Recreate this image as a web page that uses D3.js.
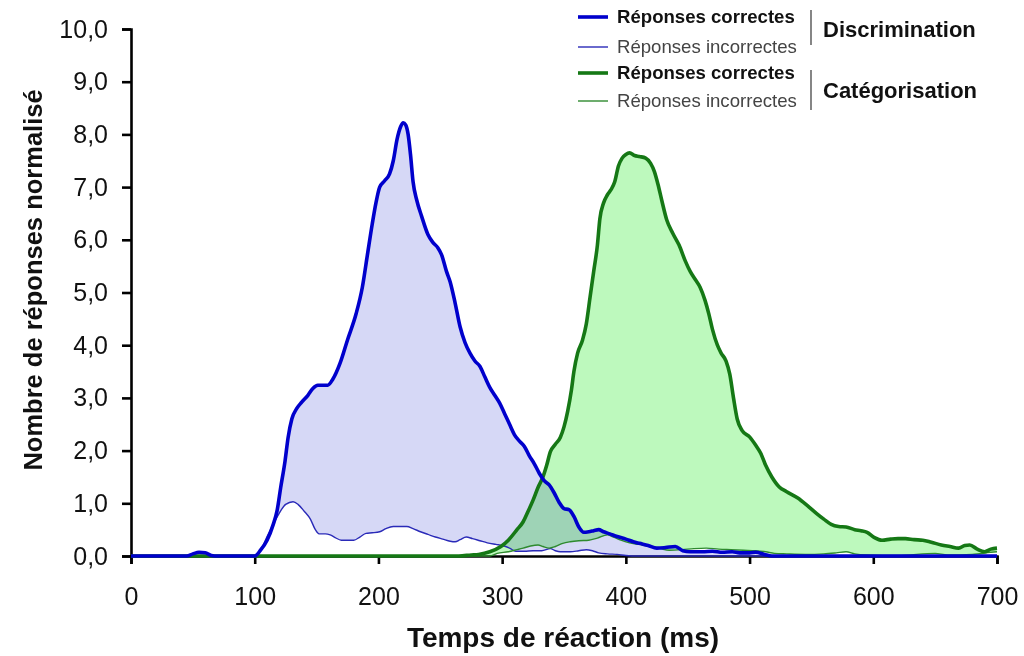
<!DOCTYPE html>
<html><head><meta charset="utf-8">
<script src="https://cdn.jsdelivr.net/npm/d3@7"></script>
<style>
html,body{margin:0;padding:0;background:#fff;}
text{font-family:"Liberation Sans",Arial,sans-serif;}
</style></head>
<body><svg id="c" width="1024" height="656"></svg>
<script>
// ---- data ----
const xTicks = [0,100,200,300,400,500,600,700];
const yTicks = [0,1,2,3,4,5,6,7,8,9,10];

const tDiscCorrect = [0,45,50,55,60,65,70,100,105,110,115,118,121,124.5,127,130,134,138,143,147,151,155,159,163,169,175,182,187,191,195,198,201,205,209,212,215,218,220,222,224,226,228,231,235,240,244,248,251,255,258,262,266,270,274,278,282,286,290,294,298,302,306,310,314,318,322,326,330,334,338,342,346,350,354,358,362,366,370,374,378,382,387,393,400,406,411,418,425,432,440,446,452,462,470,478,486,492,500,505,512,518,700];
const vDiscCorrect = [0,0,0.04,0.07,0.06,0.01,0,0,0.12,0.3,0.6,0.85,1.3,1.8,2.25,2.6,2.8,2.92,3.05,3.18,3.24,3.24,3.24,3.35,3.66,4.1,4.6,5.1,5.7,6.3,6.7,7.0,7.12,7.25,7.5,7.9,8.15,8.22,8.18,8.0,7.6,7.1,6.75,6.44,6.1,5.95,5.85,5.72,5.4,5.2,4.8,4.35,4.05,3.85,3.7,3.6,3.4,3.2,3.05,2.9,2.7,2.5,2.3,2.18,2.08,1.9,1.75,1.57,1.43,1.35,1.2,1.02,0.9,0.88,0.75,0.55,0.45,0.46,0.48,0.5,0.46,0.42,0.37,0.32,0.27,0.24,0.2,0.15,0.16,0.18,0.1,0.08,0.08,0.09,0.07,0.08,0.06,0.06,0.07,0.03,0,0];

const tDiscIncorrect = [0,100,105,110,115,120,125,131,135,140,145,149,152,157,161,165,170,175,180,185,190,195,201,206,212,218,223,228,234,240,246,252,258,262,266,271,276,282,288,295,300,306,311,318,325,332,339,343,347,355,362,368,373,378,385,393,400,410,700];
const vDiscIncorrect = [0,0,0.12,0.37,0.6,0.82,0.98,1.03,0.98,0.85,0.7,0.5,0.42,0.42,0.4,0.35,0.3,0.3,0.3,0.36,0.43,0.44,0.46,0.52,0.56,0.56,0.56,0.52,0.46,0.41,0.36,0.32,0.28,0.27,0.31,0.36,0.33,0.29,0.25,0.22,0.2,0.15,0.09,0.09,0.1,0.1,0.14,0.1,0.08,0.08,0.1,0.12,0.1,0.06,0.04,0.03,0.01,0,0];

const tCatCorrect = [0,265,275,281,290,299,305,312,317,321,325,329,333,336,339,343,347,350,353,356,358,361,365,368,371,374,377,379,382,385,388,391,394,397,400,403,407,411,416,420,423,426,429,433,438,443,448,452,456,460,464,467,470,474,477,481,484,487,490,494,500,505,509,513,518,524,530,539,547,554,560,566,572,578,585,590,595,601,607,614,620,626,633,640,647,655,662,669,674,678,684,690,695,700];
const vCatCorrect = [0,0,0.02,0.03,0.08,0.18,0.3,0.5,0.65,0.85,1.06,1.3,1.5,1.72,1.98,2.12,2.25,2.45,2.75,3.15,3.5,3.85,4.1,4.4,4.9,5.4,5.9,6.4,6.7,6.85,6.95,7.1,7.4,7.55,7.62,7.65,7.6,7.58,7.55,7.45,7.3,7.05,6.75,6.38,6.12,5.9,5.6,5.4,5.25,5.1,4.85,4.6,4.3,4.0,3.85,3.7,3.45,3.0,2.6,2.38,2.26,2.1,1.95,1.72,1.5,1.31,1.22,1.1,0.95,0.81,0.7,0.6,0.56,0.55,0.5,0.48,0.45,0.35,0.3,0.32,0.33,0.33,0.31,0.3,0.26,0.21,0.18,0.15,0.2,0.21,0.13,0.08,0.13,0.15];

const tCatIncorrect = [0,290,296,305,312,317,323,329,333,338,343,349,355,362,370,377,385,390,396,403,410,420,428,435,445,455,465,475,485,495,505,513,520,530,545,560,570,578,585,595,620,650,660,680,695,700];
const vCatIncorrect = [0,0,0.05,0.08,0.12,0.15,0.19,0.21,0.18,0.15,0.18,0.24,0.27,0.29,0.3,0.34,0.4,0.36,0.3,0.25,0.22,0.18,0.14,0.11,0.12,0.14,0.15,0.13,0.12,0.11,0.1,0.08,0.05,0.04,0.03,0.04,0.06,0.08,0.04,0.02,0.01,0.05,0.02,0.03,0.07,0.08];

const legendLabels = ["Réponses correctes","Réponses incorrectes"];
const groupLabels = ["Discrimination","Catégorisation"];
const xTitle = "Temps de réaction (ms)";
const yTitle = "Nombre de réponses normalisé";

// ---- drawing ----
const svg = d3.select("#c");
const x = d3.scaleLinear().domain([0,700]).range([131,997]);
const y = d3.scaleLinear().domain([0,10]).range([556,29]);

const zip = (ts, vs) => ts.map((t,i)=>({t, v:vs[i]}));
function onGrid(ts, vs, grid){ // evaluate series at grid times (linear)
  return grid.map(g=>{
    let i = d3.bisectLeft(ts,g);
    if (i<=0) return vs[0];
    if (i>=ts.length) return vs[vs.length-1];
    const t0=ts[i-1], t1=ts[i];
    return vs[i-1] + (vs[i]-vs[i-1])*(g-t0)/(t1-t0);
  });
}
const curve = d3.curveMonotoneX;

const discC = zip(tDiscCorrect, vDiscCorrect);
const discI = zip(tDiscIncorrect, vDiscIncorrect);
const catC = zip(tCatCorrect, vCatCorrect);
const catI = zip(tCatIncorrect, vCatIncorrect);

// fill between incorrect and correct (common time grid from both arrays)
function band(tc, vc, ti, vi){
  const grid = Array.from(new Set(tc.concat(ti))).sort((a,b)=>a-b);
  const a = onGrid(tc,vc,grid), b = onGrid(ti,vi,grid);
  return grid.map((g,k)=>({t:g, hi:a[k], lo:Math.min(a[k],b[k])}));
}
const areaGen = d3.area().curve(d3.curveLinear).x(d=>x(d.t)).y0(d=>y(d.lo)).y1(d=>y(d.hi));
const lineGen = d3.line().curve(curve).x(d=>x(d.t)).y(d=>y(d.v));

svg.append("path").datum(band(tCatCorrect,vCatCorrect,tCatIncorrect,vCatIncorrect))
  .attr("d",areaGen).attr("fill","#bdf9bd");
svg.append("path").datum(band(tDiscCorrect,vDiscCorrect,tDiscIncorrect,vDiscIncorrect))
  .attr("d",areaGen).attr("fill","#d6d8f6").style("mix-blend-mode","multiply");

// axes
const yAxis = d3.axisLeft(y).tickValues(yTicks).tickSize(9).tickPadding(14)
  .tickFormat(d=>d3.format(".1f")(d).replace(".",","));
const xAxis = d3.axisBottom(x).tickValues(xTicks).tickSize(8).tickPadding(23);
const gy = svg.append("g").attr("transform","translate(131,0)").call(yAxis);
const gx = svg.append("g").attr("transform","translate(0,556)").call(xAxis);
[gx,gy].forEach(g=>{
  g.selectAll("path,line").attr("stroke","#000").attr("stroke-width",2.6);
  g.selectAll("text").attr("fill","#111").style("font-size","25px")
   .style("font-family","'Liberation Sans',Arial,sans-serif");
});

// lines
svg.append("path").datum(discI).attr("d",lineGen).attr("fill","none").attr("stroke","#2a2ab8").attr("stroke-width",1.4);
svg.append("path").datum(catI).attr("d",lineGen).attr("fill","none").attr("stroke","#2e8a2e").attr("stroke-width",1.4);
svg.append("path").datum(catC).attr("d",lineGen).attr("fill","none").attr("stroke","#157815").attr("stroke-width",3.6).attr("stroke-linejoin","round");
svg.append("path").datum(discC).attr("d",lineGen).attr("fill","none").attr("stroke","#0000cc").attr("stroke-width",3.6).attr("stroke-linejoin","round");

// axis titles
svg.append("text").attr("x",563).attr("y",647).attr("text-anchor","middle")
  .style("font-size","28px").style("font-weight","bold").attr("fill","#111").text(xTitle);
svg.append("text").attr("transform","translate(42,280) rotate(-90)").attr("text-anchor","middle")
  .style("font-size","25.5px").style("font-weight","bold").attr("fill","#111").text(yTitle);

// legend
const legendRows = [
  {y:17, label:legendLabels[0], color:"#0000cc", w:3.6, bold:true},
  {y:47, label:legendLabels[1], color:"#2a2ab8", w:1.4, bold:false},
  {y:73, label:legendLabels[0], color:"#157815", w:3.6, bold:true},
  {y:101, label:legendLabels[1], color:"#2e8a2e", w:1.4, bold:false}
];
const lg = svg.append("g");
legendRows.forEach(r=>{
  lg.append("line").attr("x1",578).attr("x2",608).attr("y1",r.y).attr("y2",r.y)
    .attr("stroke",r.color).attr("stroke-width",r.w);
  lg.append("text").attr("x",617).attr("y",r.y+6).style("font-size","18.6px")
    .style("font-weight",r.bold?"bold":"normal").attr("fill",r.bold?"#111":"#444").text(r.label);
});
[[10,45,37,0],[70,110,98,1]].forEach(([a,b,ty,i])=>{
  lg.append("line").attr("x1",811).attr("x2",811).attr("y1",a).attr("y2",b).attr("stroke","#444").attr("stroke-width",1.3);
  lg.append("text").attr("x",823).attr("y",ty).style("font-size","22px").style("font-weight","bold")
    .attr("fill","#111").text(groupLabels[i]);
});
</script></body></html>
